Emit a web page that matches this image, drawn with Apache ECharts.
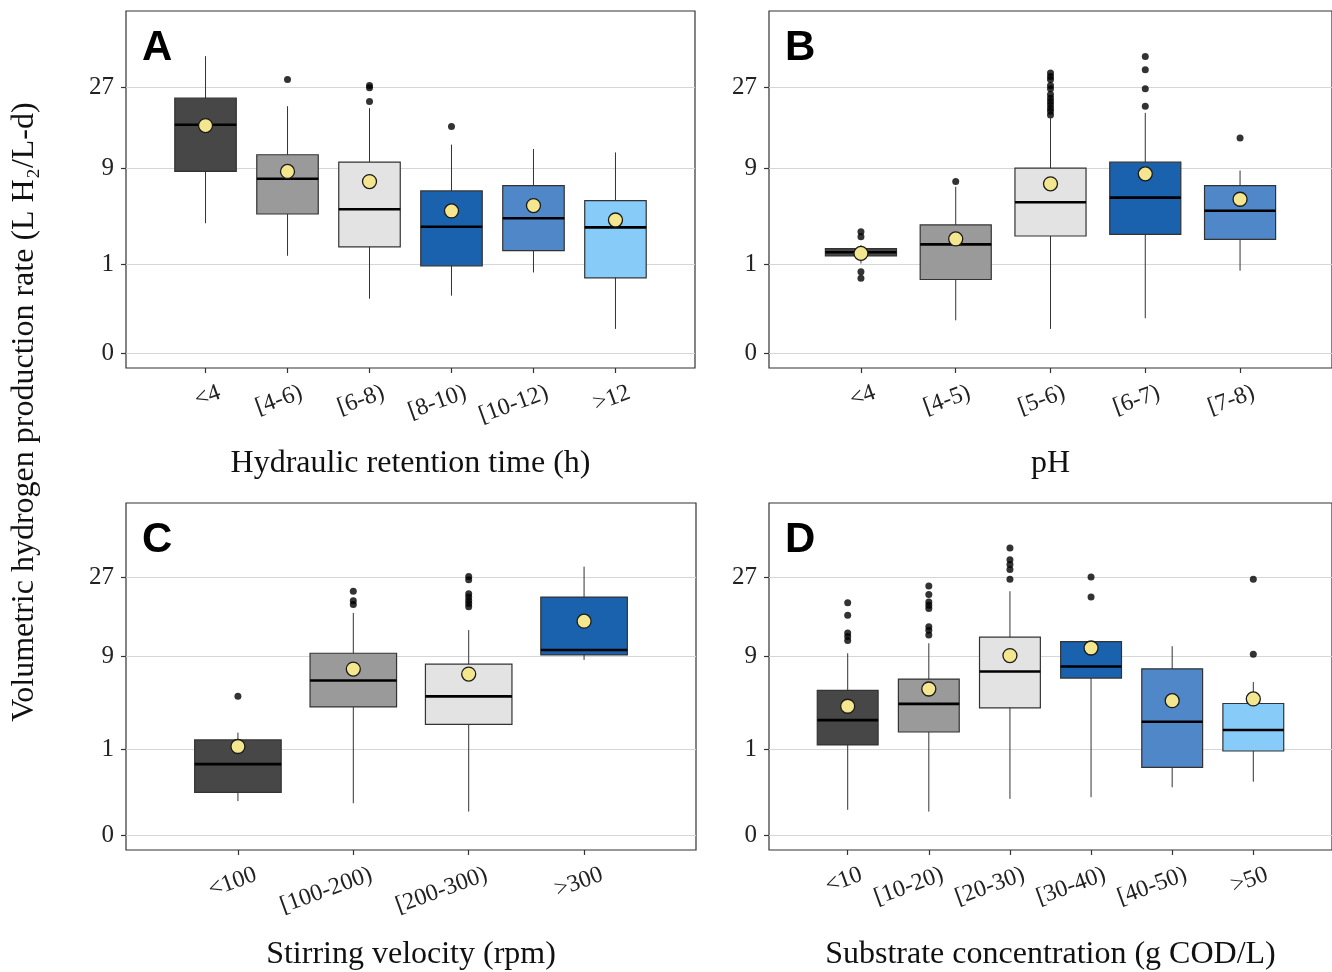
<!DOCTYPE html>
<html>
<head>
<meta charset="utf-8">
<title>Volumetric hydrogen production rate</title>
<script src="https://cdn.jsdelivr.net/npm/echarts@6/dist/echarts.min.js"></script>
<style>
  html, body { margin: 0; padding: 0; background: #fff; }
  #chart { width: 1332px; height: 972px; }
</style>
</head>
<body>
<div id="chart"></div>
<script>
// box stats per category: [lower whisker, Q1, median, Q3, upper whisker]  (L H2/L-d)
var catsA = ['<4', '[4-6)', '[6-8)', '[8-10)', '[10-12)', '>12'];
var boxA = [[3.14, 8.6, 17.1, 23.8, 37.6], [1.32, 3.86, 7.6, 11.2, 21.6], [0.23, 1.72, 4.27, 10.0, 21.1],
            [0.27, 0.95, 2.89, 6.12, 13.0], [0.75, 1.54, 3.51, 6.74, 12.2], [0.02, 0.61, 2.85, 5.08, 11.6]];
var meanA = [16.9, 8.6, 7.24, 4.12, 4.6, 3.38];
var outA = [[], [29.4], [27.5, 26.8, 22.9], [16.7], [], []];

var catsB = ['<4', '[4-5)', '[5-6)', '[6-7)', '[7-8)'];
var boxB = [[1.03, 1.31, 1.47, 1.63, 1.8], [0.05, 0.57, 1.84, 3.02, 6.6], [0.02, 2.3, 4.92, 9.08, 18.6],
            [0.06, 2.4, 5.39, 9.99, 19.9], [0.8, 2.11, 4.14, 6.74, 8.73]];
var meanB = [1.42, 2.13, 6.96, 8.26, 5.22];
var outB = [[2.56, 2.26, 0.77, 0.6], [7.24],
            [31.6, 30.4, 29.4, 27.5, 26.5, 24.8, 23.8, 22.9, 22.0, 21.1, 20.3, 19.4],
            [37.5, 32.7, 26.5, 21.6], [14.3]];

var catsC = ['<100', '[100-200)', '[200-300)', '>300'];
var boxC = [[0.063, 0.125, 0.566, 1.36, 1.7], [0.052, 3.32, 5.82, 9.46, 17.25],
            [0.021, 2.14, 4.21, 7.86, 13.55], [8.46, 9.2, 9.98, 21.2, 30.4]];
var meanC = [1.1, 7.2, 6.57, 15.4];
var outC = [[4.21], [22.8, 20.2, 19.3], [27.2, 26.2, 22.1, 21.2, 20.3, 19.5, 18.7], []];

var catsD = ['<10', '[10-20)', '[20-30)', '[30-40)', '[40-50)', '>50'];
var boxD = [[0.026, 1.16, 2.4, 4.78, 9.46], [0.021, 1.73, 3.56, 5.98, 11.1], [0.076, 3.25, 6.89, 12.2, 22.8],
            [0.087, 6.1, 7.54, 11.4, 11.4], [0.174, 0.491, 2.3, 7.24, 10.6], [0.242, 0.941, 1.83, 3.59, 5.65]];
var meanD = [3.37, 4.91, 9.1, 10.3, 3.83, 3.98];
var outD = [[19.7, 16.7, 13.0, 12.3, 11.6], [24.3, 21.9, 19.9, 19.1, 18.3, 14.2, 13.5, 12.6],
            [37.2, 32.8, 31.1, 29.4, 26.3], [27.0, 21.2], [], [26.3, 9.31]];

var yTicks = [0, 1, 9, 27];

var xTitles = ['Hydraulic retention time (h)', 'pH', 'Stirring velocity (rpm)', 'Substrate concentration (g COD/L)'];
var letters = ['A', 'B', 'C', 'D'];

var boxColors = ['#474747', '#9a9a9a', '#e3e3e3', '#1a62ae', '#4f87c8', '#87cbf9'];
var serif = '"Liberation Serif", "Times New Roman", serif';

var panels = [
  {cats: catsA, box: boxA, mean: meanA, out: outA, grid: {left: 126, top: 11, width: 569, height: 357}, nameGap: 80, shift: 14},
  {cats: catsB, box: boxB, mean: meanB, out: outB, grid: {left: 769, top: 11, width: 571, height: 357}, nameGap: 80, shift: 14},
  {cats: catsC, box: boxC, mean: meanC, out: outC, grid: {left: 126, top: 503, width: 570, height: 348}, nameGap: 89, shift: 18},
  {cats: catsD, box: boxD, mean: meanD, out: outD, grid: {left: 769, top: 503, width: 571, height: 348}, nameGap: 89, shift: 14}
];

function renderBox(params, api) {
  var x = api.value(0);
  var lo = api.coord([x, api.value(1)]);
  var q1 = api.coord([x, api.value(2)]);
  var md = api.coord([x, api.value(3)]);
  var q3 = api.coord([x, api.value(4)]);
  var hi = api.coord([x, api.value(5)]);
  var w = api.size([0.75, 0])[0];
  return {
    type: 'group',
    children: [
      {type: 'line', shape: {x1: lo[0], y1: lo[1], x2: hi[0], y2: hi[1]}, style: {stroke: '#333', lineWidth: 1}},
      {type: 'rect', shape: {x: q3[0] - w / 2, y: q3[1], width: w, height: q1[1] - q3[1]},
       style: {fill: boxColors[api.value(6)], stroke: '#333', lineWidth: 1.2}},
      {type: 'line', shape: {x1: md[0] - w / 2, y1: md[1], x2: md[0] + w / 2, y2: md[1]}, style: {stroke: '#000', lineWidth: 2.6}}
    ]
  };
}

var grids = [], xAxes = [], yAxes = [], series = [], graphics = [];

panels.forEach(function (p, k) {
  var n = p.cats.length;
  var xmin = -0.97, xmax = n - 1 + 0.97;
  var spacing = p.grid.width / (xmax - xmin);
  var idx = p.cats.map(function (c, i) { return i; });
  var labelPos = idx.map(function (i) { return i + p.shift / spacing; });

  grids.push({left: p.grid.left, top: p.grid.top, width: p.grid.width, height: p.grid.height,
              show: true, borderColor: '#333', borderWidth: 1.2, backgroundColor: '#fff'});

  xAxes.push({
    gridIndex: k, type: 'value', min: xmin, max: xmax,
    name: xTitles[k], nameLocation: 'middle', nameGap: p.nameGap,
    nameTextStyle: {fontFamily: serif, fontSize: 32, color: '#111'},
    axisLine: {show: false, onZero: false},
    splitLine: {show: false},
    axisTick: {show: true, length: 5, customValues: idx, lineStyle: {color: '#333', width: 1.2}},
    axisLabel: {
      customValues: labelPos, rotate: 20, margin: 24,
      fontFamily: serif, fontSize: 24, color: '#222',
      formatter: function (v) { return p.cats[Math.round(v)]; }
    }
  });

  yAxes.push({
    gridIndex: k, type: 'value', min: -0.17, max: 3.86,
    axisLine: {show: false, onZero: false},
    axisTick: {show: true, length: 5, customValues: yTicks.map(Math.cbrt), lineStyle: {color: '#333', width: 1.2}},
    splitLine: {show: true, lineStyle: {color: '#d6d6d6', width: 1.2}},
    axisLabel: {
      customValues: yTicks.map(Math.cbrt), margin: 12, padding: [8, 0, 0, 0],
      fontFamily: serif, fontSize: 25, color: '#222',
      formatter: function (v) { return String(Math.round(v * v * v)); }
    }
  });

  series.push({
    type: 'custom', xAxisIndex: k, yAxisIndex: k, renderItem: renderBox,
    encode: {x: 0, y: [1, 2, 3, 4, 5]},
    data: p.box.map(function (b, i) { return [i].concat(b.map(Math.cbrt)).concat([i]); }),
    z: 2
  });

  var outPts = [];
  p.out.forEach(function (vals, i) {
    vals.forEach(function (v) { outPts.push([i, Math.cbrt(v)]); });
  });
  series.push({
    type: 'scatter', xAxisIndex: k, yAxisIndex: k, symbol: 'circle', symbolSize: 7,
    itemStyle: {color: '#000'}, data: outPts, z: 3
  });

  series.push({
    type: 'scatter', xAxisIndex: k, yAxisIndex: k, symbol: 'circle', symbolSize: 14,
    itemStyle: {color: '#f3e68e', borderColor: '#1a1a1a', borderWidth: 1.3, opacity: 1},
    data: p.mean.map(function (m, i) { return [i, Math.cbrt(m)]; }), z: 4
  });

  graphics.push({
    type: 'text', x: p.grid.left + 16, y: p.grid.top + 37,
    style: {text: letters[k], font: 'bold 42px "Liberation Sans", Arial, sans-serif', fill: '#000',
            textAlign: 'left', textVerticalAlign: 'middle'}
  });
});

graphics.push({
  type: 'text', x: 25, y: 412, rotation: Math.PI / 2,
  style: {text: 'Volumetric hydrogen production rate (L H\u2082/L-d)', font: '32px ' + serif, fill: '#111',
          textAlign: 'center', textVerticalAlign: 'middle'}
});

var chart = echarts.init(document.getElementById('chart'));
chart.setOption({
  animation: false,
  backgroundColor: '#fff',
  grid: grids,
  xAxis: xAxes,
  yAxis: yAxes,
  series: series,
  graphic: graphics
});
</script>
</body>
</html>
